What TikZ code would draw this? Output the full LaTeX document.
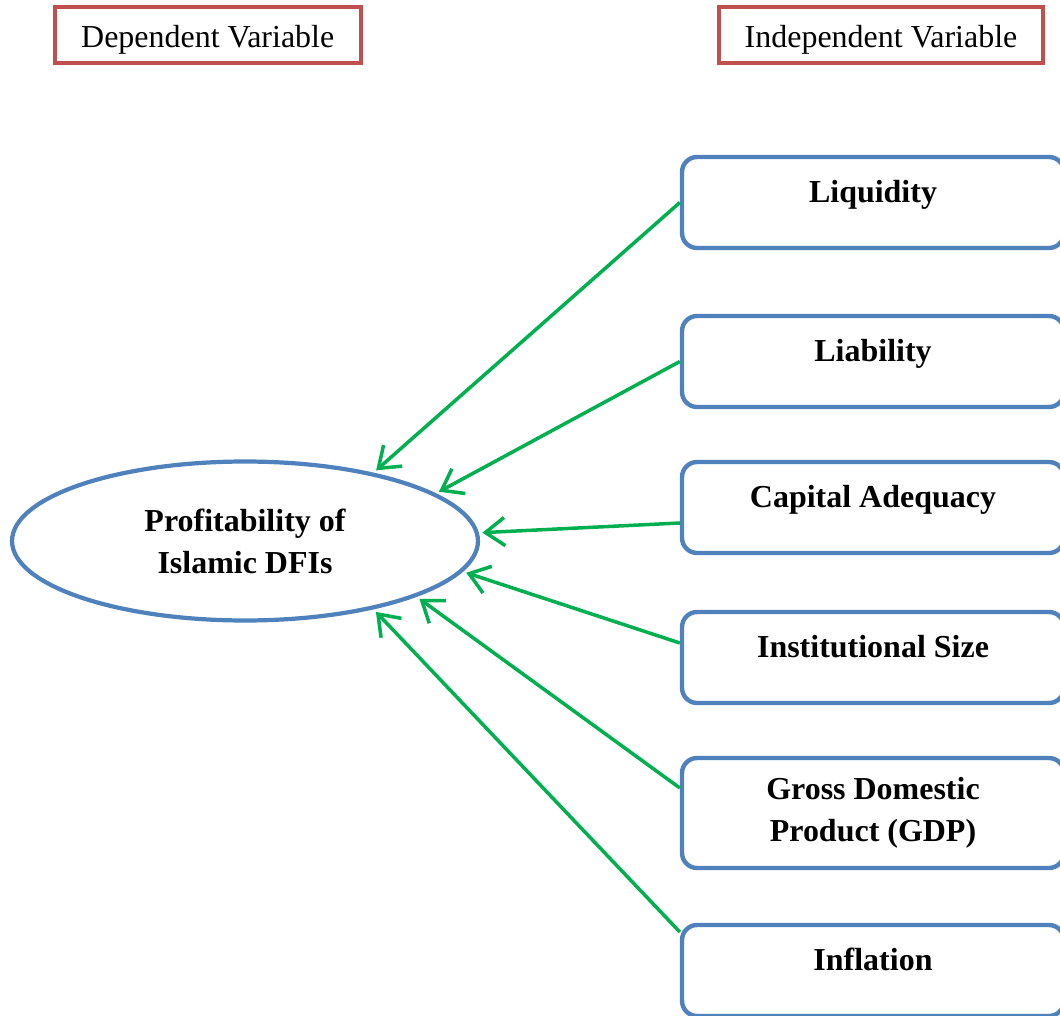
\documentclass[tikz,border=0pt]{standalone}
\usepackage{fontspec}
\setmainfont{Liberation Serif}
\usetikzlibrary{arrows.meta,shapes.geometric,positioning}

\definecolor{boxblue}{HTML}{4F81BD}
\definecolor{boxred}{HTML}{C0504D}
\definecolor{arrgreen}{HTML}{00B050}

\begin{document}
\begin{tikzpicture}[x=0.02cm,y=-0.02cm,shorten >=2pt,
    every node/.style={font=\fontsize{18.2}{24}\selectfont},
    head/.style={draw=boxred,line width=2.4pt,minimum height=1.12cm,
      text height=19pt,text depth=4.5pt},
    var/.style={draw=boxblue,line width=2.5pt,rounded corners=0.3cm,
      minimum width=7.64cm,minimum height=1.82cm,font=\fontsize{18.2}{24}\selectfont\bfseries},
    oneline/.style={text height=14pt,text depth=14pt},
    link/.style={draw=arrgreen,line width=2pt,-{Straight Barb[length=11pt,width=16pt]}}]
    \clip (0,0) rectangle (1060,1016);
    % headings
    \node[head,minimum width=6.12cm] (dep) at (207.7,35) {Dependent Variable};
    \node[head,minimum width=6.48cm] (indep) at (881,35) {Independent Variable};
    % dependent variable
    \node[ellipse,draw=boxblue,line width=2.4pt,minimum width=9.32cm,minimum height=3.18cm,
      align=center,font=\fontsize{18.2}{24}\selectfont\bfseries] (dv) at (245,541)
      {Profitability of\\Islamic DFIs};
    % independent variables
    \node[var,oneline] (liq)  at (873,202.5) {Liquidity};
    \node[var,oneline] (liab) at (873,361.5) {Liability};
    \node[var,oneline] (cap)  at (873,507.5) {Capital Adequacy};
    \node[var,oneline] (size) at (873,657.5) {Institutional Size};
    \node[var,align=center,minimum height=2.2cm] (gdp) at (873,813)
      {Gross Domestic\\Product (GDP)};
    \node[var,oneline] (infl) at (873,970.5) {Inflation};
    \path[every edge/.style=link]
    (liq.west) edge (dv.28.5)
    (liab.west) edge (dv.14)
    ([yshift=-0.31cm]cap.west) edge (dv.2.5)
    ([yshift=0.29cm]size.west) edge (dv.352.1)
    ([yshift=0.5cm]gdp.west) edge (dv.342.7)
    ([yshift=0.77cm]infl.west) edge (dv.332.2);
\end{tikzpicture}
\end{document}
